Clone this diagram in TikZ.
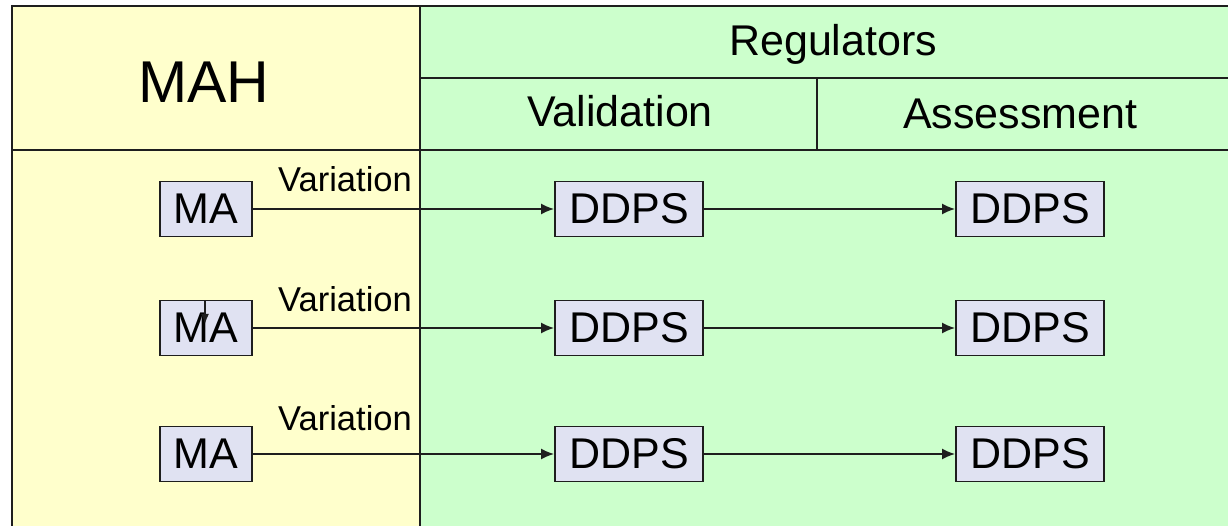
\documentclass[tikz,border=0pt]{standalone}
\usepackage{fontspec}
\setmainfont{Liberation Sans}
\usetikzlibrary{arrows.meta}
\definecolor{mahyellow}{HTML}{FFFFCC}
\definecolor{reggreen}{HTML}{CCFFCC}
\definecolor{boxfill}{HTML}{E0E2F2}
\definecolor{rulecol}{HTML}{1E1E1E}
\begin{document}
\begin{tikzpicture}[x=1pt,y=-1pt,
  gridline/.style={draw=rulecol,line width=1.8pt},
  frameline/.style={draw=rulecol,line width=2.8pt},
  headtext/.style={anchor=base west,inner sep=0pt,font=\fontsize{43}{45}\selectfont},
  vartext/.style={anchor=base west,inner sep=0pt,font=\fontsize{34.5}{36}\selectfont},
  itembox/.style={draw=rulecol,line width=1.8pt,fill=boxfill,inner sep=0pt,
    minimum height=55pt,font=\fontsize{43}{45}\selectfont},
  mabox/.style={itembox,minimum width=92pt},
  ddpsbox/.style={itembox,minimum width=148pt},
  flow/.style={draw=rulecol,line width=1.8pt,-{Latex[length=13pt,width=11pt]}}]
\useasboundingbox (0,0) rectangle (1228,526);

% column backgrounds
\fill[mahyellow] (12,6) rectangle (420,526);
\fill[reggreen] (420,6) rectangle (1228,526);

% table rules
\draw[frameline] (12,6) -- (1228,6);
\draw[frameline] (12,5) -- (12,526);
\draw[gridline,line width=2.2pt] (12,150) -- (1228,150);
\draw[gridline] (420,6) -- (420,526);
\draw[gridline] (420,78) -- (1228,78);
\draw[gridline] (817,78) -- (817,150);

% headings
\node[anchor=base west,inner sep=0pt,font=\fontsize{59}{60}\selectfont] (mah) at (138,103) {MAH};
\node[headtext] (regs) at (729,56) {Regulators};
\node[headtext] (valid) at (527,127) {Validation};
\node[headtext] (assess) at (903,129) {Assessment};

% row 1
\node[mabox] (ma1) at (206,209) {MA};
\node[ddpsbox] (dv1) at (629,209) {DDPS};
\node[ddpsbox] (da1) at (1030,209) {DDPS};
\node[vartext] (var1) at (278,192) {Variation};
\draw[flow] (ma1.east) -- (dv1.west);
\draw[flow] (dv1.east) -- (da1.west);

% row 2
\node[mabox] (ma2) at (206,328) {MA};
\node[ddpsbox] (dv2) at (629,328) {DDPS};
\node[ddpsbox] (da2) at (1030,328) {DDPS};
\node[vartext] (var2) at (278,312) {Variation};
\draw[flow] (ma2.east) -- (dv2.west);
\draw[flow] (dv2.east) -- (da2.west);
\coordinate (tickA) at (205,301);
\coordinate (tickB) at (205,324);
\draw[draw=rulecol,line width=1.6pt,-{Latex[length=10pt,width=8pt]}] (tickA) -- (tickB);

% row 3
\node[mabox] (ma3) at (206,454) {MA};
\node[ddpsbox] (dv3) at (629,454) {DDPS};
\node[ddpsbox] (da3) at (1030,454) {DDPS};
\node[vartext] (var3) at (278,430) {Variation};
\draw[flow] (ma3.east) -- (dv3.west);
\draw[flow] (dv3.east) -- (da3.west);
\end{tikzpicture}
\end{document}
